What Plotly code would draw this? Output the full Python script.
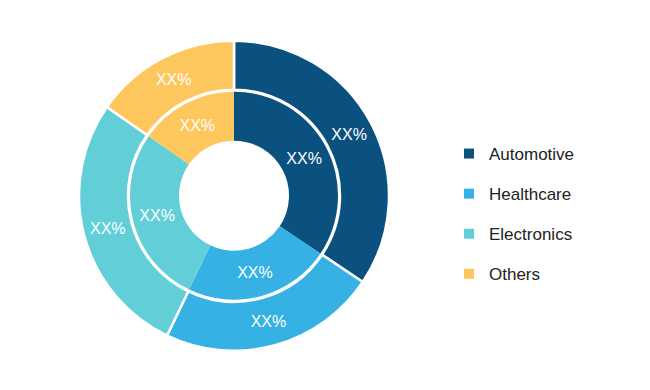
import plotly.graph_objects as go

categories = ["Automotive", "Healthcare", "Electronics", "Others"]
outer_values = [34.4, 22.7, 27.6, 15.3]
inner_values = [34.4, 22.7, 27.6, 15.3]
slice_labels = ["XX%", "XX%", "XX%", "XX%"]
colors = ["#0b517f", "#35b1e3", "#62cfd8", "#fec75e"]

W, H = 650, 390
# page body adds an 8px offset, so centre is shifted accordingly
cx, cy = 226, 390 - 187.7
r_out, r_gap, r_mid, r_in = 155, 106, 104, 55

def dom(r):
    return dict(x=[(cx - r) / W, (cx + r) / W], y=[(cy - r) / H, (cy + r) / H])

fig = go.Figure()
fig.add_trace(go.Pie(
    labels=categories, values=outer_values, text=slice_labels,
    textinfo="text", textposition="inside", insidetextorientation="horizontal",
    hole=r_gap / r_out, domain=dom(r_out), sort=False, direction="clockwise",
    rotation=0, marker=dict(colors=colors, line=dict(color="white", width=2.5)),
    textfont=dict(color="white", size=16, family="Liberation Sans"),
    showlegend=False,
))
fig.add_trace(go.Pie(
    labels=categories, values=inner_values, text=slice_labels,
    textinfo="text", textposition="inside", insidetextorientation="horizontal",
    hole=r_in / r_mid, domain=dom(r_mid), sort=False, direction="clockwise",
    rotation=0, marker=dict(colors=colors, line=dict(color="white", width=0)),
    textfont=dict(color="white", size=16, family="Liberation Sans"),
    showlegend=False,
))
for name, col in zip(categories, colors):
    fig.add_trace(go.Scatter(
        x=[None], y=[None], mode="markers", name=name, legendgroup=name,
        marker=dict(symbol="square", size=10, color=col),
    ))

fig.update_layout(
    width=W, height=H, margin=dict(l=0, r=0, t=0, b=0),
    paper_bgcolor="white", plot_bgcolor="white",
    xaxis=dict(visible=False), yaxis=dict(visible=False),
    legend=dict(x=441 / W, y=(H - 128) / H, xanchor="left", yanchor="top",
                tracegroupgap=15, font=dict(size=17, color="#222222", family="Liberation Sans"),
                bgcolor="rgba(0,0,0,0)"),
    font=dict(family="Liberation Sans"),
)
fig.write_html("out.html")
